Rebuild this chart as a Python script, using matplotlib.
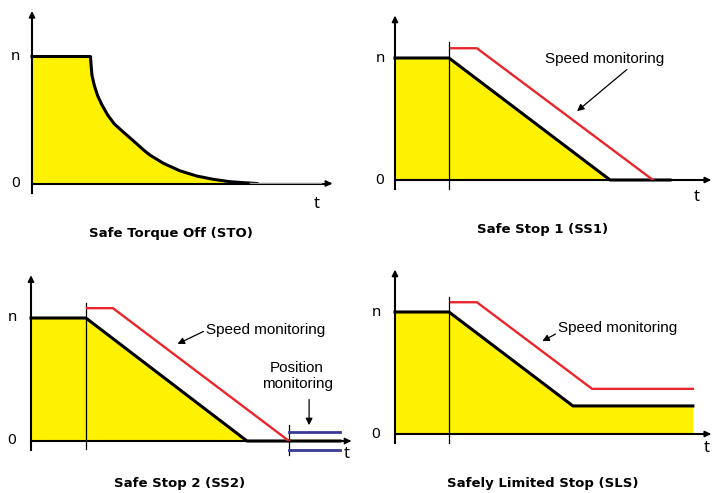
import matplotlib
matplotlib.use("Agg")
import matplotlib.pyplot as plt

W, H = 714, 493

# speed n (1.0 = nominal) against time t
sto_t = [0.0, 1.95, 1.97, 2.0, 2.08, 2.19, 2.33, 2.52, 2.74, 3.02, 3.36, 3.74,
         3.93, 4.38, 4.93, 5.49, 6.04, 6.6, 7.16, 7.5]
sto_n = [1.0, 1.0, 0.93, 0.85, 0.77, 0.69, 0.62, 0.54, 0.47, 0.41, 0.34, 0.26,
         0.224, 0.159, 0.10, 0.059, 0.033, 0.014, 0.005, 0.0]
sto_rest_t = [7.3, 9.6]

ss1_t = [0.0, 1.8, 7.17, 9.17]
ss1_n = [1.0, 1.0, 0.0, 0.0]
ss1_mon_t = [1.87, 2.73, 8.6]
ss1_mon_n = [1.08, 1.08, 0.0]

ss2_t = [0.0, 1.83, 7.2, 10.3]
ss2_n = [1.0, 1.0, 0.0, 0.0]
ss2_mon_t = [1.87, 2.73, 8.6]
ss2_mon_n = [1.08, 1.08, 0.0]
ss2_pos_t = [8.6, 10.3]
ss2_pos_n = [0.073, -0.073]

sls_t = [0.0, 1.8, 5.93, 9.93]
sls_n = [1.0, 1.0, 0.23, 0.23]
sls_mon_t = [1.87, 2.73, 6.57, 9.93]
sls_mon_n = [1.08, 1.08, 0.37, 0.37]

titles = ["Safe Torque Off (STO)", "Safe Stop 1 (SS1)",
          "Safe Stop 2 (SS2)", "Safely Limited Stop (SLS)"]

YELLOW = "#FFF200"
RED = "#E8262B"
BLUE = "#3B3B96"
LABEL_FONT = ["Noto Sans", "DejaVu Sans"]
TEXT_FONT = ["Liberation Sans", "DejaVu Sans"]
TITLE_FONT = ["DejaVu Sans"]

fig = plt.figure(figsize=(W / 100, H / 100), dpi=100)


def panel(ox, oy, sy, tmax, nmax, sx=30.0):
    ax = fig.add_axes([ox / W, 1 - oy / H, tmax * sx / W, nmax * sy / H])
    ax.set_xlim(0, tmax)
    ax.set_ylim(0, nmax)
    ax.axis("off")
    ax.plot([0, 0], [-0.075, nmax - 0.05], color="black", lw=1.5, clip_on=False, zorder=4)
    ax.plot([0, tmax - 0.2], [0, 0], color="black", lw=1.5, clip_on=False, zorder=4)
    ax.annotate("", xy=(0, nmax), xytext=(0, nmax - 0.1),
                arrowprops=dict(arrowstyle="-|>", color="black", lw=1.2, mutation_scale=9),
                annotation_clip=False)
    ax.annotate("", xy=(tmax, 0), xytext=(tmax - 0.3, 0),
                arrowprops=dict(arrowstyle="-|>", color="black", lw=1.2, mutation_scale=9),
                annotation_clip=False)
    return ax


def labels(ax, nx, tx, ty):
    ax.text(nx, 1.0, "n", ha="center", va="center", fontsize=11, family=LABEL_FONT)
    ax.text(nx, 0.0, "0", ha="center", va="center", fontsize=11, family=LABEL_FONT)
    ax.text(tx, ty, "t", ha="center", va="center", fontsize=12, family=LABEL_FONT)


def marker(ax, t, lo, hi):
    ax.plot([t, t], [lo, hi], color="black", lw=0.9, clip_on=False, zorder=5)


def note(ax, text, tx, ty, ha, start, end):
    ax.text(tx, ty, text, ha=ha, va="center", fontsize=11, family=TEXT_FONT)
    ax.annotate("", xy=end, xytext=start,
                arrowprops=dict(arrowstyle="-|>", color="black", lw=0.9, mutation_scale=10),
                annotation_clip=False)


# STO
ax = panel(32, 183.5, 127, 10.1, 1.38)
ax.fill_between(sto_t, sto_n, color=YELLOW, lw=0, zorder=2)
ax.plot(sto_t, sto_n, color="black", lw=2.2, zorder=6, clip_on=False,
        solid_joinstyle="round")
ax.plot(sto_rest_t, [0, 0], color="#9a9a9a", lw=2.5, zorder=6)
labels(ax, -0.55, 9.5, -0.16)

# SS1
ax = panel(395, 180, 122, 10.63, 1.37)
ax.fill_between(ss1_t, ss1_n, color=YELLOW, lw=0, zorder=2)
ax.plot(ss1_t, ss1_n, color="black", lw=2.2, zorder=6, clip_on=False)
ax.plot(ss1_mon_t, ss1_mon_n, color=RED, lw=1.7, zorder=6)
marker(ax, 1.8, -0.074, 1.13)
note(ax, "Speed monitoring", 7.0, 0.99, "center", (7.8, 0.92), (6.0, 0.55))
labels(ax, -0.5, 10.07, -0.14)

# SS2
ax = panel(31, 441, 123, 10.77, 1.37)
ax.fill_between(ss2_t, ss2_n, color=YELLOW, lw=0, zorder=2)
ax.plot(ss2_t, ss2_n, color="black", lw=2.2, zorder=6, clip_on=False)
ax.plot(ss2_mon_t, ss2_mon_n, color=RED, lw=1.7, zorder=6)
marker(ax, 1.83, -0.065, 1.12)
for lvl in ss2_pos_n:
    ax.plot(ss2_pos_t, [lvl, lvl], color=BLUE, lw=2, clip_on=False, zorder=6)
marker(ax, ss2_pos_t[0], -0.11, 0.13)
note(ax, "Speed monitoring", 5.83, 0.9, "left", (5.83, 0.9), (4.8, 0.78))
note(ax, "Position\nmonitoring", 8.87, 0.53, "center", (9.27, 0.36), (9.27, 0.106))
labels(ax, -0.63, 10.53, -0.105)

# SLS
ax = panel(395, 434, 122, 10.63, 1.37)
ax.fill_between(sls_t, sls_n, color=YELLOW, lw=0, zorder=2)
ax.plot(sls_t, sls_n, color="black", lw=2.2, zorder=6, clip_on=False)
ax.plot(sls_mon_t, sls_mon_n, color=RED, lw=1.7, zorder=6)
marker(ax, 1.8, -0.074, 1.12)
note(ax, "Speed monitoring", 5.43, 0.87, "left", (5.43, 0.83), (4.83, 0.75))
labels(ax, -0.63, 10.4, -0.115)

for txt, (cx, cy) in zip(titles, [(171, 233), (543, 230), (180, 484), (543, 484)]):
    fig.text(cx / W, 1 - cy / H, txt, ha="center", va="center", fontsize=9.5,
             fontweight="bold", color="black", family=TITLE_FONT)

fig.savefig("out.png", dpi=100)
